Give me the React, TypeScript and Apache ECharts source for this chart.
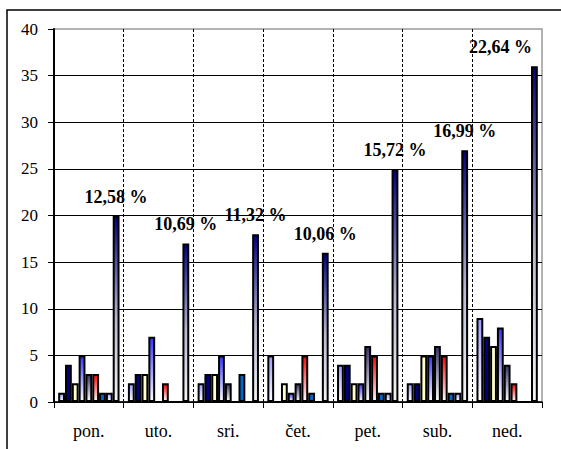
import React, { useEffect, useRef } from "react";
import * as echarts from "echarts";

const categories = ["pon.", "uto.", "sri.", "čet.", "pet.", "sub.", "ned."];
const seriesA = [1, 2, 2, 5, 4, 2, 9];
const seriesB = [4, 3, 3, 0, 4, 2, 7];
const seriesC = [2, 3, 3, 2, 2, 5, 6];
const seriesD = [5, 7, 5, 1, 2, 5, 8];
const seriesE = [3, 0, 2, 2, 6, 6, 4];
const seriesF = [3, 2, 0, 5, 5, 5, 2];
const seriesG = [1, 0, 3, 1, 1, 1, 0];
const seriesH = [1, 0, 0, 0, 1, 1, 0];
const totals = [20, 17, 18, 16, 25, 27, 36];
const percentages = [12.58, 10.69, 11.32, 10.06, 15.72, 16.99, 22.64];
const yTicks = { min: 0, max: 40, interval: 5 };

const FONT = "Liberation Serif";

function grad(top: string, bottom: string) {
  return new echarts.graphic.LinearGradient(0, 0, 0, 1, [
    { offset: 0, color: top },
    { offset: 1, color: bottom },
  ]);
}

export default function App() {
  const ref = useRef<HTMLDivElement>(null);
  useEffect(() => {
    if (!ref.current) return;
    const chart = echarts.init(ref.current, undefined, { renderer: "svg" });
    const itemBase = { borderColor: "#000", borderWidth: 2 };
    const fills = [
      grad("#9999ff", "#ffffff"),
      "#000080",
      "#ffffcc",
      grad("#3333ff", "#ffffff"),
      grad("#333366", "#ffffff"),
      grad("#ff0000", "#ffffff"),
      "#0066cc",
      grad("#9999ff", "#ffffff"),
    ];
    const small = [seriesA, seriesB, seriesC, seriesD, seriesE, seriesF, seriesG, seriesH];
    const series: any[] = small.map((d, i) => ({
      type: "bar",
      data: d,
      itemStyle: { ...itemBase, color: fills[i] },
      barGap: "0%",
      barCategoryGap: "12%",
    }));
    const lastIdx = totals.length - 1;
    series.push({
      type: "bar",
      data: totals.map((v, i) =>
        i === lastIdx ? { value: v, label: { offset: [-34, 0] } } : v
      ),
      itemStyle: {
        ...itemBase,
        color: new echarts.graphic.LinearGradient(0, 0, 0, 1, [
          { offset: 0, color: "#000080" },
          { offset: 0.55, color: "#b8b8d0" },
          { offset: 1, color: "#f4f4f8" },
        ]),
      },
      barGap: "0%",
      barCategoryGap: "12%",
      label: {
        show: true,
        position: "top",
        distance: 10,
        fontFamily: FONT,
        fontWeight: "bold",
        fontSize: 18,
        color: "#000",
        formatter: (p: any) => percentages[p.dataIndex].toFixed(2).replace(".", ",") + " %",
      },
    });

    chart.setOption({
      animation: false,
      backgroundColor: "#fff",
      textStyle: { fontFamily: FONT },
      grid: {
        left: 54,
        top: 29,
        right: 19,
        bottom: 47,
        show: true,
        borderColor: "#999",
        borderWidth: 1.5,
        backgroundColor: "transparent",
        outerBoundsMode: "none",
      },
      graphic: [
        {
          type: "rect",
          shape: { x: 7, y: 10, width: 700, height: 600 },
          style: { fill: "none", stroke: "#000", lineWidth: 1.5 },
          z: -10,
          silent: true,
        },
      ],
      xAxis: {
        type: "category",
        data: categories,
        axisLine: { lineStyle: { color: "#000", width: 1.5 } },
        axisTick: { show: true, length: 6, lineStyle: { color: "#000" } },
        axisLabel: { fontFamily: FONT, fontSize: 18, color: "#000", margin: 20 },
        splitLine: {
          show: true,
          showMinLine: false,
          showMaxLine: false,
          lineStyle: { color: "#000", type: [3, 2], width: 1 },
        },
      },
      yAxis: {
        type: "value",
        min: yTicks.min,
        max: yTicks.max,
        interval: yTicks.interval,
        axisLine: { show: true, lineStyle: { color: "#000", width: 2 } },
        axisTick: { show: true, length: 6, lineStyle: { color: "#000" } },
        axisLabel: { fontFamily: FONT, fontSize: 17, color: "#000", margin: 16 },
        splitLine: {
          show: true,
          showMaxLine: false,
          lineStyle: { color: "#000", width: 1 },
        },
      },
      series,
    });
    return () => chart.dispose();
  }, []);
  return (
    <div
      ref={ref}
      style={{ position: "fixed", left: 0, top: 0, width: 561, height: 449 }}
    />
  );
}
